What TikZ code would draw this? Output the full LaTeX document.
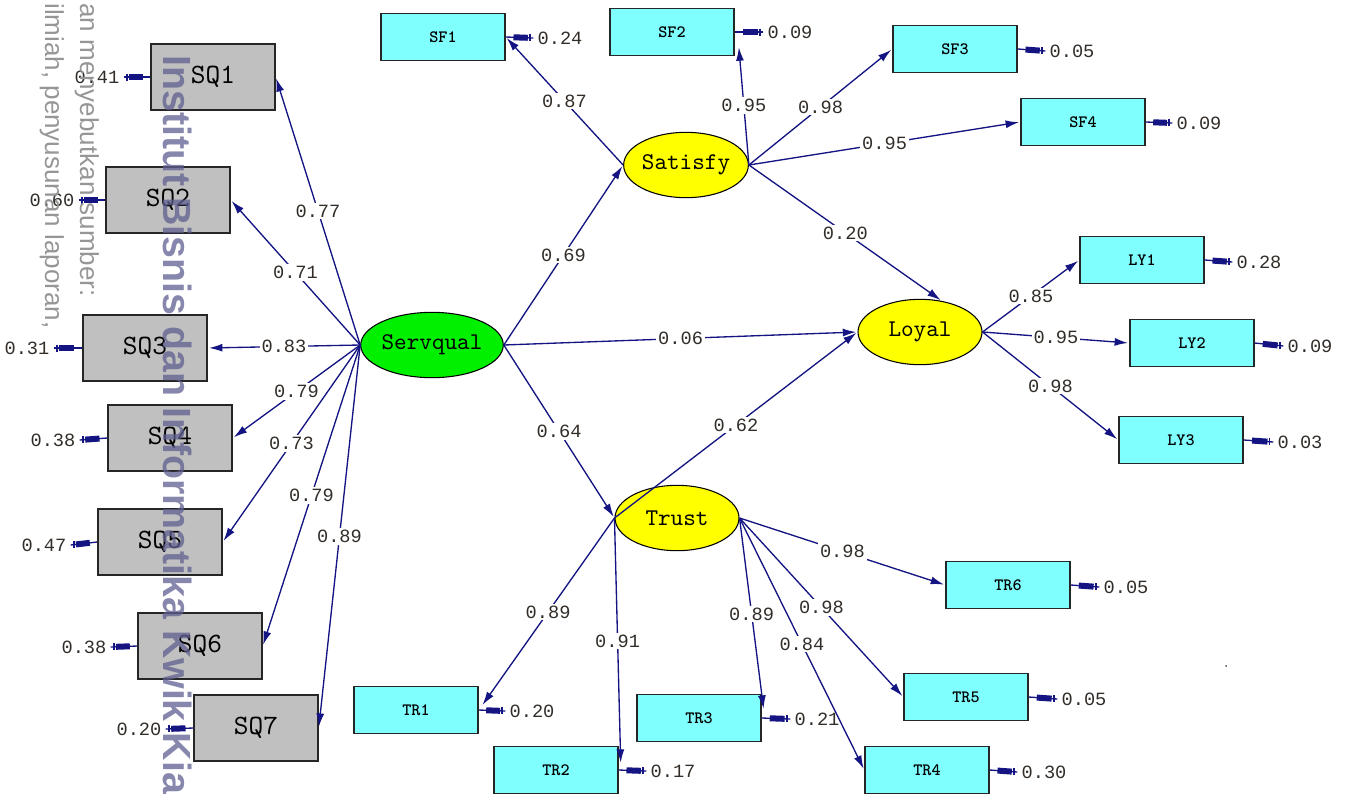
\documentclass[tikz,border=0pt]{standalone}
\usepackage{fontspec}
\setmainfont{Liberation Sans}
\newfontfamily\numfont{Liberation Mono}
\newfontfamily\boxfont{lmmonolt10-bold.otf}
\newfontfamily\sqfont{lmmono10-regular.otf}
\usetikzlibrary{shapes.geometric,arrows.meta,calc}
\definecolor{sqgray}{RGB}{192,192,192}
\definecolor{cyanbox}{RGB}{128,255,255}
\definecolor{latyellow}{RGB}{255,255,0}
\definecolor{latgreen}{RGB}{0,240,0}
\definecolor{pathblue}{RGB}{20,20,130}
\definecolor{numgray}{RGB}{50,45,40}
\definecolor{wmblue}{RGB}{95,95,145}
\definecolor{wmgray}{RGB}{150,150,150}
\newcommand\errarrow[2]{%
  \draw[errline] (#1) -- (#2);
  \draw[errthick] ($(#1)!0.2!(#2)$) -- ($(#1)!0.72!(#2)$);
  \draw[errline] ($(#1)!0.12!(#2)+(0,-3.5)$) -- ($(#1)!0.12!(#2)+(0,3.5)$);}
\begin{document}
\begin{tikzpicture}[x=0.75pt,y=-0.75pt,
  sqbox/.style={draw=black!85,line width=1.1pt,fill=sqgray,minimum width=93pt,minimum height=49.5pt,inner sep=0pt,font=\sqfont\fontsize{21}{21}\selectfont},
  cbox/.style={draw=black!85,line width=1.1pt,fill=cyanbox,minimum width=93pt,minimum height=35pt,inner sep=0pt,font=\boxfont\fontsize{13}{13}\selectfont},
  lat/.style={ellipse,draw=black,line width=0.8pt,minimum width=93pt,minimum height=49pt,inner sep=0pt,font=\sqfont\fontsize{18}{18}\selectfont},
  load/.style={draw=pathblue,line width=1pt,-{Latex[length=10pt,width=6pt]},shorten >=1pt},
  lab/.style={fill=white,inner sep=1.5pt,font=\numfont\fontsize{14}{14}\selectfont,text=numgray},
  errlab/.style={inner sep=3pt,font=\numfont\fontsize{14}{14}\selectfont,text=numgray},
  errline/.style={draw=pathblue,line width=1pt},
  errthick/.style={draw=pathblue,line width=4.5pt}]
\path[use as bounding box] (0,0) rectangle (1351,793);

% observed variables: Servqual
\node[sqbox] (SQ1) at (213,77) {SQ1};
\node[sqbox] (SQ2) at (168,200) {SQ2};
\node[sqbox] (SQ3) at (145,348) {SQ3};
\node[sqbox] (SQ4) at (170,438) {SQ4};
\node[sqbox] (SQ5) at (160,542) {SQ5};
\node[sqbox] (SQ6) at (200,646) {SQ6};
\node[sqbox] (SQ7) at (256,728) {SQ7};

% observed variables: cyan
\node[cbox] (SF1) at (443,37) {SF1};
\node[cbox] (SF2) at (672,32) {SF2};
\node[cbox] (SF3) at (955,49) {SF3};
\node[cbox] (SF4) at (1083,122) {SF4};
\node[cbox] (LY1) at (1142,260) {LY1};
\node[cbox] (LY2) at (1192,343) {LY2};
\node[cbox] (LY3) at (1181,440) {LY3};
\node[cbox] (TR6) at (1008,585) {TR6};
\node[cbox] (TR5) at (966,697) {TR5};
\node[cbox] (TR4) at (927,770) {TR4};
\node[cbox] (TR3) at (699,718) {TR3};
\node[cbox] (TR2) at (556,770) {TR2};
\node[cbox] (TR1) at (416,710) {TR1};

% latent variables
\node[lat,fill=latgreen] (Servqual) at (432,345) {Servqual};
\node[lat,fill=latyellow] (Satisfy) at (686,165) {Satisfy};
\node[lat,fill=latyellow] (Loyal) at (920,332) {Loyal};
\node[lat,fill=latyellow] (Trust) at (677,518) {Trust};

% loadings Servqual
\draw[load] (Servqual.west) -- node[lab]{0.77} (SQ1.east);
\draw[load] (Servqual.west) -- node[lab]{0.71} (SQ2.east);
\draw[load] (Servqual.west) -- node[lab]{0.83} (SQ3.east);
\draw[load] (Servqual.west) -- node[lab]{0.79} (SQ4.east);
\draw[load] (Servqual.west) -- node[lab]{0.73} (SQ5.east);
\draw[load] (Servqual.west) -- node[lab]{0.79} (SQ6.east);
\draw[load] (Servqual.west) -- node[lab]{0.89} (SQ7.east);

% structural paths
\draw[load] (Servqual.east) -- node[lab]{0.69} (Satisfy.west);
\draw[load] (Servqual.east) -- node[lab]{0.06} (Loyal.west);
\draw[load] (Servqual.east) -- node[lab]{0.64} (Trust.west);
\draw[load] (Trust.west) -- node[lab]{0.62} (Loyal.west);
\draw[load] (Satisfy.east) -- node[lab]{0.20} (Loyal.55);

% loadings Satisfy
\draw[load] (Satisfy.west) -- node[lab]{0.87} (SF1.east);
\draw[load] (Satisfy.east) -- node[lab]{0.95} ($(SF2.south east)+(4,-10)$);
\draw[load] (Satisfy.east) -- node[lab]{0.98} (SF3.west);
\draw[load] (Satisfy.east) -- node[lab]{0.95} (SF4.west);

% loadings Loyal
\draw[load] (Loyal.east) -- node[lab]{0.85} (LY1.west);
\draw[load] (Loyal.east) -- node[lab]{0.95} (LY2.west);
\draw[load] (Loyal.east) -- node[lab]{0.98} (LY3.west);

% loadings Trust
\draw[load] (Trust.west) -- node[lab]{0.89} ($(TR1.east)+(3,-4)$);
\draw[load] (Trust.west) -- node[lab]{0.91} ($(TR2.east)+(2,-6)$);
\draw[load] (Trust.east) -- node[lab]{0.89} ($(TR3.east)+(2,-8)$);
\draw[load] (Trust.east) -- node[lab]{0.84} (TR4.west);
\draw[load] (Trust.east) -- node[lab]{0.98} (TR5.west);
\draw[load] (Trust.east) -- node[lab]{0.98} (TR6.west);

% error variances left
\node[errlab] (eSQ1) at (97,77) {0.41};
\node[errlab] (eSQ2) at (52,200) {0.60};
\node[errlab] (eSQ3) at (27,348) {0.31};
\node[errlab] (eSQ4) at (53,440) {0.38};
\node[errlab] (eSQ5) at (44,545) {0.47};
\node[errlab] (eSQ6) at (84,647) {0.38};
\node[errlab] (eSQ7) at (139,729) {0.20};
\errarrow{eSQ1.east}{SQ1.west}
\errarrow{eSQ2.east}{SQ2.west}
\errarrow{eSQ3.east}{SQ3.west}
\errarrow{eSQ4.east}{SQ4.west}
\errarrow{eSQ5.east}{SQ5.west}
\errarrow{eSQ6.east}{SQ6.west}
\errarrow{eSQ7.east}{SQ7.west}

% error variances right
\node[errlab] (eSF1) at (560,38) {0.24};
\node[errlab] (eSF2) at (790,32) {0.09};
\node[errlab] (eSF3) at (1072,51) {0.05};
\node[errlab] (eSF4) at (1199,123) {0.09};
\node[errlab] (eLY1) at (1259,262) {0.28};
\node[errlab] (eLY2) at (1310,346) {0.09};
\node[errlab] (eLY3) at (1300,442) {0.03};
\node[errlab] (eTR6) at (1126,587) {0.05};
\node[errlab] (eTR5) at (1084,699) {0.05};
\node[errlab] (eTR4) at (1044,772) {0.30};
\node[errlab] (eTR3) at (817,719) {0.21};
\node[errlab] (eTR2) at (673,771) {0.17};
\node[errlab] (eTR1) at (532,711) {0.20};
\errarrow{eSF1.west}{SF1.east}
\errarrow{eSF2.west}{SF2.east}
\errarrow{eSF3.west}{SF3.east}
\errarrow{eSF4.west}{SF4.east}
\errarrow{eLY1.west}{LY1.east}
\errarrow{eLY2.west}{LY2.east}
\errarrow{eLY3.west}{LY3.east}
\errarrow{eTR6.west}{TR6.east}
\errarrow{eTR5.west}{TR5.east}
\errarrow{eTR4.west}{TR4.east}
\errarrow{eTR3.west}{TR3.east}
\errarrow{eTR2.west}{TR2.east}
\errarrow{eTR1.west}{TR1.east}

\fill[black!70] (1226,666) circle (1);

% watermark
\node[rotate=-90,anchor=base west,inner sep=0pt,text=wmgray,font=\fontsize{19.5}{19.5}\selectfont] (wm1) at (45,3) {ilmiah, penyusunan laporan,};
\node[rotate=-90,anchor=base west,inner sep=0pt,text=wmgray,font=\fontsize{19.5}{19.5}\selectfont] (wm2) at (80,3) {an menyebutkan sumber:};
\node[rotate=-90,anchor=base west,inner sep=0pt,text=wmblue,opacity=0.75,font=\bfseries\fontsize{29.5}{29.5}\selectfont] (wm3) at (163,55) {Institut Bisnis dan Informatika Kwik Kia};
\end{tikzpicture}
\end{document}
